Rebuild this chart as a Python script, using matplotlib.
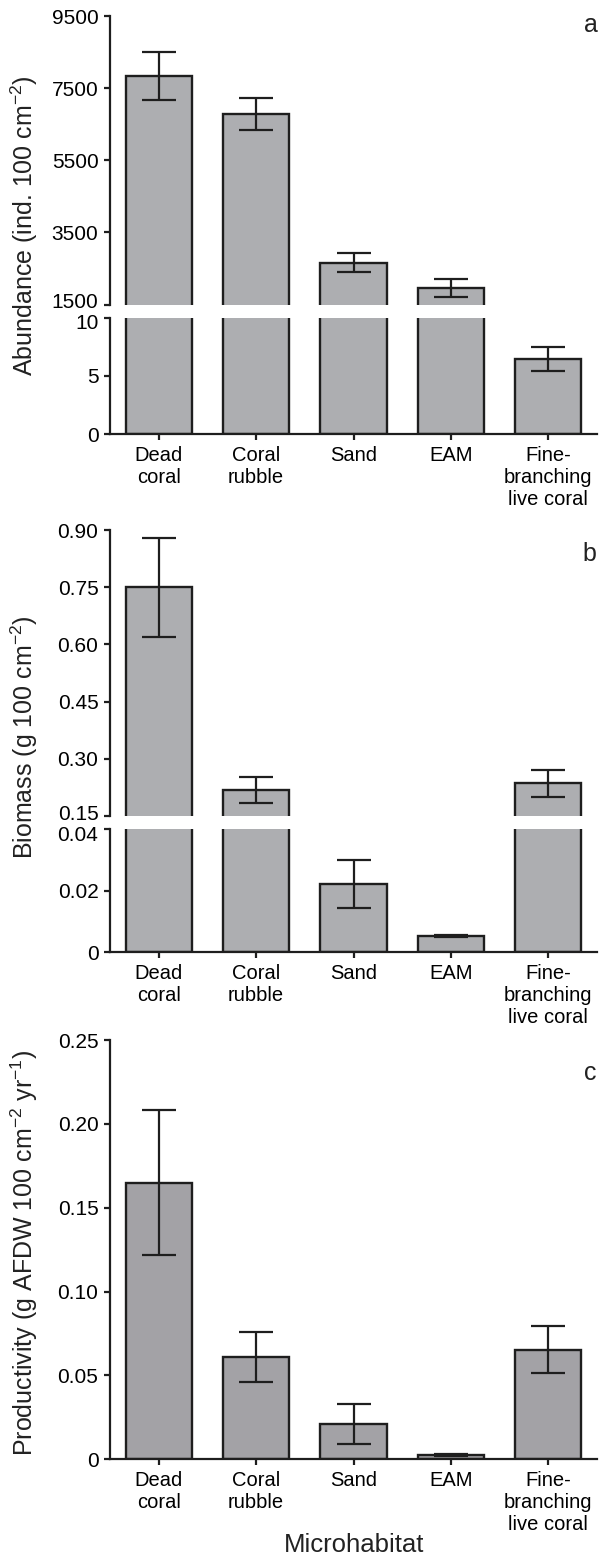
import numpy as np
import matplotlib
matplotlib.use('Agg')
import matplotlib.pyplot as plt
from matplotlib.transforms import ScaledTranslation

plt.rcParams['font.family'] = ['Liberation Sans', 'DejaVu Sans']
plt.rcParams['mathtext.fontset'] = 'custom'
plt.rcParams['mathtext.rm'] = 'Liberation Sans'
plt.rcParams['text.color'] = '#222222'

# data
habitats = ['Dead\ncoral', 'Coral\nrubble', 'Sand', 'EAM', 'Fine-\nbranching\nlive coral']
abund = [7830, 6790, 2660, 1950, 6.45]
abund_se = [665, 450, 270, 255, 1.0]
biomass = [0.750, 0.218, 0.0222, 0.0053, 0.236]
biomass_se = [0.130, 0.034, 0.0077, 0.0004, 0.035]
prod = [0.165, 0.061, 0.021, 0.0026, 0.0652]
prod_se = [0.043, 0.015, 0.012, 0.0004, 0.014]

W, H = 609, 1557
fig = plt.figure(figsize=(W/100, H/100), dpi=100)
ink = '#1e1e1e'
x = np.arange(len(habitats))

def box(top, bot, left=110, right=597):
    return [left/W, 1-bot/H, (right-left)/W, (bot-top)/H]

def draw(ax, vals, se, color):
    ax.bar(x, vals, width=0.68, color=color, edgecolor=ink, linewidth=1.7, zorder=2)
    ax.errorbar(x, vals, yerr=se, fmt='none', ecolor=ink, elinewidth=1.6,
                capsize=12, capthick=1.6, zorder=3)
    ax.set_xlim(-0.5, 4.5)
    for s in ['top', 'right']:
        ax.spines[s].set_visible(False)
    for s in ['left', 'bottom']:
        ax.spines[s].set_linewidth(1.6)
        ax.spines[s].set_color(ink)
    ax.tick_params(axis='y', direction='out', length=4.3, width=1.6, color=ink,
                   labelsize=15, pad=4)
    ax.tick_params(axis='x', direction='out', length=4.3, width=1.6, color=ink,
                   labelsize=14.5, pad=4)

def upper(ax):
    ax.spines['bottom'].set_visible(False)
    ax.set_xticks([])

def lower(ax):
    ax.set_xticks(x)
    ax.set_xticklabels(habitats, linespacing=1.2)

def nudge(lbl, dy):
    # shift a tick label away from the axis break (dy in pixels)
    lbl.set_transform(lbl.get_transform() + ScaledTranslation(0, dy/100, fig.dpi_scale_trans))

# panel a
a1 = fig.add_axes(box(16, 304.5))
a2 = fig.add_axes(box(317.5, 434))
for ax in (a1, a2):
    draw(ax, abund, abund_se, '#adaeb1')
upper(a1); lower(a2)
a1.set_ylim(1500, 9500); a1.set_yticks([1500, 3500, 5500, 7500, 9500])
a2.set_ylim(0, 10); a2.set_yticks([0, 5, 10])
fig.text(24/W, 1-226/H, 'Abundance (ind. 100 cm$^{\\mathregular{-2}}$)', rotation=90,
         ha='center', va='center', fontsize=18)
fig.text(591/W, 1-31.7/H, 'a', ha='center', va='baseline', fontsize=18)

# panel b
b1 = fig.add_axes(box(530, 816))
b2 = fig.add_axes(box(829.3, 952.3))
for ax in (b1, b2):
    draw(ax, biomass, biomass_se, '#adaeb1')
upper(b1); lower(b2)
b1.set_ylim(0.15, 0.90); b1.set_yticks([0.15, 0.30, 0.45, 0.60, 0.75, 0.90])
b1.set_yticklabels(['%.2f' % v for v in b1.get_yticks()])
b2.set_ylim(0, 0.04); b2.set_yticks([0, 0.02, 0.04])
b2.set_yticklabels(['0', '0.02', '0.04'])
fig.text(24/W, 1-737/H, 'Biomass (g 100 cm$^{\\mathregular{-2}}$)', rotation=90,
         ha='center', va='center', fontsize=18)
fig.text(589/W, 1-560.7/H, 'b', ha='center', va='baseline', fontsize=18)

# panel c
c1 = fig.add_axes(box(1040, 1459.3))
draw(c1, prod, prod_se, '#a3a2a6')
lower(c1)
c1.set_ylim(0, 0.25); c1.set_yticks([0, 0.05, 0.10, 0.15, 0.20, 0.25])
c1.set_yticklabels(['0', '0.05', '0.10', '0.15', '0.20', '0.25'])
fig.text(24/W, 1-1253/H, 'Productivity (g AFDW 100 cm$^{\\mathregular{-2}}$ yr$^{\\mathregular{-1}}$)',
         rotation=90, ha='center', va='center', fontsize=18)
fig.text(590/W, 1-1080/H, 'c', ha='center', va='baseline', fontsize=18)
fig.text(354/W, 1-1552/H, 'Microhabitat', ha='center', va='baseline', fontsize=18.5)

# labels at the breaks sit away from each other
nudge(a1.get_yticklabels()[0], 4)
nudge(a2.get_yticklabels()[-1], -4)
nudge(b1.get_yticklabels()[0], 4)
nudge(b2.get_yticklabels()[-1], -4)

fig.savefig('out.png', dpi=100)
